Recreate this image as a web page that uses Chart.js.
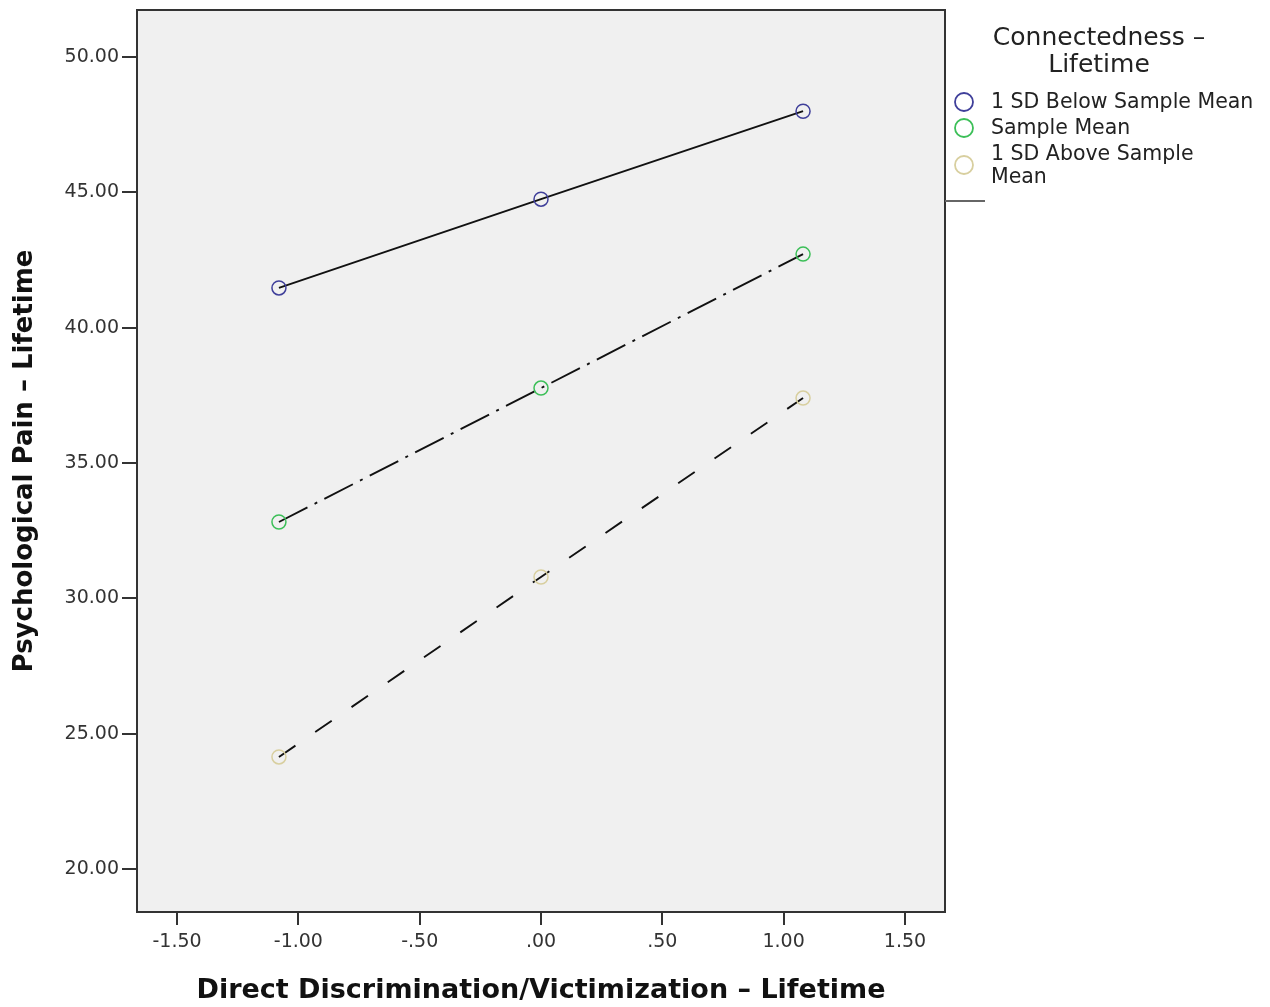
<!DOCTYPE html>
<html>
<head>
<meta charset="utf-8">
<script src="https://cdn.jsdelivr.net/npm/chart.js@4/dist/chart.umd.min.js"></script>
<style>
  html, body { margin: 0; padding: 0; background: #fff; }
  #wrap { width: 1270px; height: 1007px; position: relative; }
</style>
</head>
<body>
<div id="wrap"><canvas id="myChart"></canvas></div>
<script>
// data
const xVals = [-1.08, 0.0, 1.08];
const belowMean = [41.47, 44.75, 48.0];
const sampleMean = [32.82, 37.77, 42.72];
const aboveMean = [24.14, 30.79, 37.40];
const seriesNames = ['1 SD Below Sample Mean', 'Sample Mean', '1 SD Above Sample Mean'];
const xTicks = [-1.5, -1.0, -0.5, 0.0, 0.5, 1.0, 1.5];
const yTicks = [20, 25, 30, 35, 40, 45, 50];

const colors = ['#3f3f9a', '#3cbf58', '#d8cf9f'];
const dashes = [[], [32, 8, 3, 8], [20, 24]];

function toPoints(ys) {
  return xVals.map((x, i) => ({ x: x, y: ys[i] }));
}

function fmtX(v) {
  if (Math.abs(v) < 1e-9) return '.00';
  let s = Math.abs(v).toFixed(2);
  if (s.startsWith('0')) s = s.slice(1);
  return (v < 0 ? '-' : '') + s;
}

// plot background + frame
const plotBox = {
  id: 'plotBox',
  beforeDatasetsDraw(chart) {
    const { ctx, chartArea: { left, top, width, height } } = chart;
    ctx.save();
    ctx.fillStyle = '#f0f0f0';
    ctx.fillRect(left, top, width, height);
    ctx.restore();
  },
  afterDraw(chart) {
    const { ctx, chartArea: { left, top, width, height } } = chart;
    ctx.save();
    ctx.strokeStyle = '#333';
    ctx.lineWidth = 2;
    ctx.strokeRect(left, top, width, height);
    ctx.restore();
  }
};

// legend on the right, drawn by hand
const sideLegend = {
  id: 'sideLegend',
  afterDraw(chart) {
    const { ctx, chartArea: { right } } = chart;
    ctx.save();
    ctx.fillStyle = '#222';
    ctx.textAlign = 'center';
    ctx.textBaseline = 'middle';
    ctx.font = '25px "DejaVu Sans"';
    ctx.fillText('Connectedness \u2013', 1099, 38);
    ctx.fillText('Lifetime', 1099, 65);

    ctx.font = '20.5px "DejaVu Sans"';
    ctx.textAlign = 'left';
    const rows = [
      { y: 102, lines: [seriesNames[0]] },
      { y: 128, lines: [seriesNames[1]] },
      { y: 165, lines: ['1 SD Above Sample', 'Mean'] }
    ];
    rows.forEach((r, i) => {
      ctx.beginPath();
      ctx.arc(964, r.y, 9, 0, Math.PI * 2);
      ctx.strokeStyle = colors[i];
      ctx.lineWidth = 1.8;
      ctx.stroke();
      if (r.lines.length === 1) {
        ctx.fillText(r.lines[0], 991, r.y + 1);
      } else {
        ctx.fillText(r.lines[0], 991, r.y - 10);
        ctx.fillText(r.lines[1], 991, r.y + 13);
      }
    });

    ctx.strokeStyle = '#666';
    ctx.lineWidth = 2;
    ctx.beginPath();
    ctx.moveTo(right, 201);
    ctx.lineTo(985, 201);
    ctx.stroke();
    ctx.restore();
  }
};

const datasets = [belowMean, sampleMean, aboveMean].map((ys, i) => ({
  label: seriesNames[i],
  data: toPoints(ys),
  borderColor: '#111',
  borderWidth: 1.9,
  borderDash: dashes[i],
  pointBorderColor: colors[i],
  pointBackgroundColor: 'rgba(0,0,0,0)',
  pointRadius: 7,
  pointBorderWidth: 1.5,
  showLine: true,
  tension: 0
}));

const tickFont = { family: '"DejaVu Sans"', size: 19 };

const config = {
  type: 'scatter',
  data: { datasets: datasets },
  options: {
    responsive: true,
    maintainAspectRatio: false,
    animation: false,
    layout: { padding: { top: 10, right: 325, left: 0, bottom: 0 } },
    plugins: {
      legend: { display: false },
      tooltip: { enabled: false }
    },
    scales: {
      x: {
        type: 'linear',
        min: -1.665,
        max: 1.665,
        afterBuildTicks(scale) {
          scale.ticks = xTicks.map(v => ({ value: v }));
        },
        afterFit(scale) {
          scale.height = 95;
          scale.paddingLeft = 0;
          scale.paddingRight = 0;
        },
        border: { display: false },
        grid: { drawOnChartArea: false, drawTicks: true, tickLength: 13, color: '#333', lineWidth: 2 },
        ticks: {
          color: '#333',
          font: tickFont,
          padding: 6,
          maxRotation: 0,
          callback: v => fmtX(v)
        },
        title: {
          display: true,
          text: 'Direct Discrimination/Victimization \u2013 Lifetime',
          color: '#111',
          font: { family: '"DejaVu Sans"', size: 27, weight: 'bold' },
          padding: { top: 6, bottom: 0 }
        }
      },
      y: {
        type: 'linear',
        min: 18.41,
        max: 51.74,
        afterBuildTicks(scale) {
          scale.ticks = yTicks.map(v => ({ value: v }));
        },
        afterFit(scale) {
          scale.width = 137;
          scale.paddingTop = 0;
          scale.paddingBottom = 0;
        },
        border: { display: false },
        grid: { drawOnChartArea: false, drawTicks: true, tickLength: 15, color: '#333', lineWidth: 2 },
        ticks: {
          color: '#333',
          font: tickFont,
          padding: 3,
          callback: v => v.toFixed(2)
        },
        title: {
          display: true,
          text: 'Psychological Pain \u2013 Lifetime',
          color: '#111',
          font: { family: '"DejaVu Sans"', size: 26, weight: 'bold' },
          padding: { top: 10, bottom: 4 }
        }
      }
    }
  },
  plugins: [plotBox, sideLegend]
};

const myChart = new Chart(document.getElementById('myChart'), config);
</script>
</body>
</html>
